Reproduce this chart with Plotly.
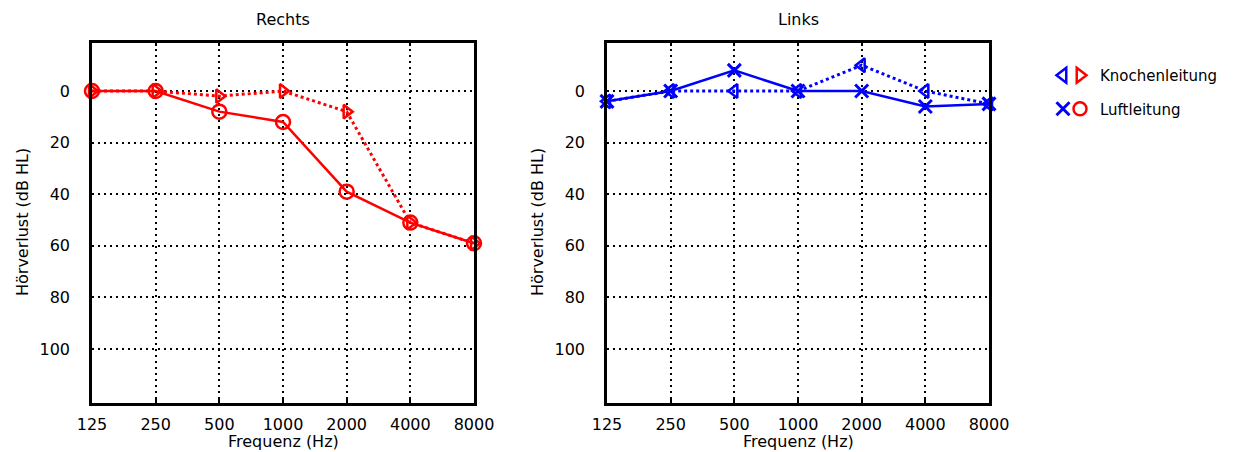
import plotly.graph_objects as go

# ---- data ----
freqs = [125, 250, 500, 1000, 2000, 4000, 8000]
freq_labels = ["125", "250", "500", "1000", "2000", "4000", "8000"]
db_ticks = [0, 20, 40, 60, 80, 100]

rechts_luft = [0, 0, 8, 12, 39, 51, 59]
rechts_knochen = [0, 0, 2, 0, 8, 51, 59]
links_luft = [4, 0, -8, 0, 0, 6, 5]
links_knochen = [4, 0, 0, 0, -10, 0, 5]

legend_names = ["Knochenleitung", "Luftleitung"]

RED = "#ff0000"
BLUE = "#0000ff"
FONT = "DejaVu Sans"

W, H = 1242, 452

fig = go.Figure()

def add(x, y, color, dash, symbol, size, lw, xa, ya, mlw):
    fig.add_trace(go.Scatter(
        x=x, y=y, mode="lines+markers",
        line=dict(color=color, width=lw, dash=dash),
        marker=dict(symbol=symbol, size=size, color=color,
                    line=dict(color=color, width=mlw)),
        xaxis=xa, yaxis=ya, cliponaxis=False, showlegend=False,
    ))

# Rechts
add(freqs, rechts_knochen, RED, "dot", "triangle-right-open", 12, 3, "x", "y", 2.5)
add(freqs, rechts_luft, RED, "solid", "circle-open", 14, 2.5, "x", "y", 2.5)
# Links
add(freqs, links_knochen, BLUE, "dot", "triangle-left-open", 12, 3, "x2", "y2", 2.5)
add(freqs, links_luft, BLUE, "solid", "x-thin-open", 13, 2.5, "x2", "y2", 3)

# legend entries (marker only, no drawn data)
leg_specs = [
    ("legend", BLUE, "triangle-left-open", 0, " "),
    ("legend", BLUE, "x-thin-open", 1, " "),
    ("legend2", RED, "triangle-right-open", 0, legend_names[0]),
    ("legend2", RED, "circle-open", 1, legend_names[1]),
]
for leg, color, sym, idx, nm in leg_specs:
    fig.add_trace(go.Scatter(
        x=[None], y=[None], mode="markers", name=nm,
        marker=dict(symbol=sym, size=13, color=color,
                    line=dict(color=color, width=3 if "x-thin" in sym else 2.5)),
        legend=leg, legendgroup=f"{leg}_{idx}", showlegend=True,
    ))

ax_common_x = dict(
    type="log", range=[2.0969, 3.9031], tickvals=freqs, ticktext=freq_labels,
    showgrid=True, gridcolor="black", gridwidth=2, griddash="2px,4px",
    showline=True, linecolor="black", linewidth=2.5, mirror="ticks",
    ticks="inside", ticklen=4, tickwidth=2, tickcolor="black",
    tickfont=dict(family=FONT, size=16, color="black"),
    ticklabelstandoff=5, zeroline=False, fixedrange=True, automargin=False,
)
ax_common_y = dict(
    range=[120.8, -18.8], tickvals=db_ticks,
    showgrid=True, gridcolor="black", gridwidth=2, griddash="2px,4px",
    showline=True, linecolor="black", linewidth=2.5, mirror=True,
    ticks="", tickfont=dict(family=FONT, size=16, color="black"),
    ticklabelstandoff=16, zeroline=False, fixedrange=True, automargin=False,
)

x1d = [92 / W, 474 / W]
x2d = [607 / W, 989 / W]
yd = [(H - 402.7) / H, (H - 42.5) / H]

leg_common = dict(
    yref="paper", xref="paper", yanchor="top", xanchor="left",
    y=(H - 59) / H, bgcolor="rgba(0,0,0,0)", borderwidth=0,
    itemwidth=30, tracegroupgap=11, traceorder="grouped",
    itemsizing="trace", itemclick=False, itemdoubleclick=False,
)

fig.update_layout(
    width=W, height=H,
    margin=dict(l=0, r=0, t=0, b=0),
    paper_bgcolor="white", plot_bgcolor="white",
    xaxis=dict(domain=x1d, anchor="y", **ax_common_x),
    yaxis=dict(domain=yd, anchor="x", **ax_common_y),
    xaxis2=dict(domain=x2d, anchor="y2", **ax_common_x),
    yaxis2=dict(domain=yd, anchor="x2", **ax_common_y),
    showlegend=True,
    legend=dict(x=1043 / W, font=dict(family=FONT, size=15, color="black"),
                **leg_common),
    legend2=dict(x=1060 / W, font=dict(family=FONT, size=15, color="black"),
                 **leg_common),
    font=dict(family=FONT, color="black"),
)

ann = []
def txt(x, y, s, size=16, angle=0, xanchor="center", color="black"):
    ann.append(dict(x=x / W, y=(H - y) / H, xref="paper", yref="paper",
                    text=s, showarrow=False, textangle=angle,
                    xanchor=xanchor, yanchor="middle",
                    font=dict(family=FONT, size=size, color=color)))

txt(283, 20, "Rechts")
txt(798, 20, "Links")
txt(283, 441, "Frequenz (Hz)")
txt(798, 441, "Frequenz (Hz)")
txt(22, 222, "Hörverlust (dB HL)", angle=-90)
txt(537, 222, "Hörverlust (dB HL)", angle=-90)

fig.update_layout(annotations=ann)

fig.write_html("out.html")
